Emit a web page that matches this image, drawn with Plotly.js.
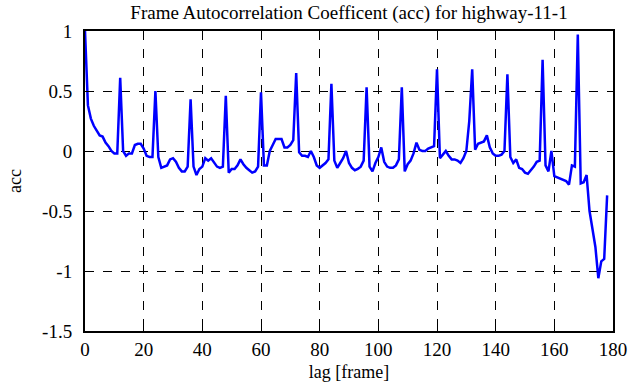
<!DOCTYPE html>
<html>
<head>
<meta charset="utf-8">
<script src="https://cdn.plot.ly/plotly-3.0.1.min.js"></script>
<style>html,body{margin:0;padding:0;background:#fff;}#chart{width:635px;height:387px;}</style>
</head>
<body>
<div id="chart"></div>
<script>
// lag in frames
const lags = [];
for (let i = 0; i <= 178; i++) lags.push(i);

// autocorrelation coefficient, one value per lag
const acc = [
  1.00, 0.38, 0.27, 0.21, 0.17, 0.13, 0.12, 0.07, 0.04, 0.00,
  -0.02, -0.02, 0.61, 0.00, -0.04, -0.02, -0.02, 0.05, 0.06, 0.06,
  0.02, -0.04, -0.05, -0.05, 0.50, -0.05, -0.14, -0.13, -0.12, -0.07,
  -0.06, -0.09, -0.14, -0.17, -0.17, -0.13, 0.43, -0.13, -0.20, -0.15,
  -0.13, -0.06, -0.08, -0.06, -0.10, -0.13, -0.14, -0.13, 0.46, -0.18,
  -0.15, -0.15, -0.12, -0.07, -0.11, -0.14, -0.16, -0.18, -0.17, -0.13,
  0.49, -0.12, -0.12, 0.00, 0.05, 0.10, 0.10, 0.10, 0.03, 0.03,
  0.05, 0.09, 0.65, -0.01, -0.04, -0.04, -0.05, 0.00, -0.05, -0.12,
  -0.14, -0.12, -0.10, -0.07, 0.56, -0.08, -0.14, -0.10, -0.06, 0.00,
  -0.10, -0.14, -0.16, -0.15, -0.13, -0.08, 0.53, -0.13, -0.17, -0.10,
  -0.05, 0.03, -0.09, -0.13, -0.14, -0.14, -0.12, -0.07, 0.53, -0.17,
  -0.11, -0.08, -0.02, 0.07, 0.01, 0.00, 0.00, 0.02, 0.03, 0.04,
  0.68, -0.06, -0.03, 0.00, -0.04, -0.07, -0.07, -0.08, -0.10, -0.06,
  0.00, 0.25, 0.68, 0.01, 0.06, 0.07, 0.08, 0.13, 0.03, -0.02,
  -0.04, -0.04, -0.03, 0.00, 0.64, -0.05, -0.10, -0.07, -0.14, -0.15,
  -0.18, -0.19, -0.16, -0.13, -0.09, -0.08, 0.76, -0.12, -0.17, 0.00,
  -0.21, -0.22, -0.23, -0.24, -0.25, -0.28, -0.12, -0.13, 0.97, -0.27,
  -0.26, -0.20, -0.50, -0.65, -0.80, -1.06, -0.92, -0.90, -0.37
];

const xTicks = [0, 20, 40, 60, 80, 100, 120, 140, 160, 180];
const yTicks = [-1.5, -1, -0.5, 0, 0.5, 1];
const yTickText = ['-1.5', '-1', '-0.5', '0', '0.5', '1'];

const SERIF = '"Liberation Serif", serif';

const trace = {
  x: lags, y: acc, type: 'scatter', mode: 'lines',
  line: {color: '#0000ff', width: 2.5},
  hoverinfo: 'skip'
};

function axis(extra) {
  return Object.assign({
    showline: true, linecolor: '#000', linewidth: 2, mirror: 'ticks',
    ticks: 'inside', ticklen: 5, tickwidth: 1, tickcolor: '#000',
    showgrid: true, gridcolor: '#000', gridwidth: 1, griddash: 'dash',
    zeroline: false,
    tickfont: {family: SERIF, size: 19, color: '#000'}
  }, extra);
}

const layout = {
  width: 635, height: 387,
  margin: {l: 85, r: 22, t: 31, b: 56, pad: 0},
  font: {family: SERIF, size: 19, color: '#000'},
  paper_bgcolor: '#fff', plot_bgcolor: '#fff',
  showlegend: false,
  title: {
    text: 'Frame Autocorrelation Coefficent (acc) for highway-11-1',
    font: {family: SERIF, size: 19, color: '#000'},
    x: 0.5, xref: 'paper', y: 0.969, yref: 'container', yanchor: 'middle'
  },
  xaxis: axis({
    range: [0, 180], tickvals: xTicks,
    title: {text: 'lag [frame]', font: {family: SERIF, size: 18, color: '#000'}, standoff: 7}
  }),
  yaxis: axis({
    range: [-1.5, 1], tickvals: yTicks, ticktext: yTickText,
    ticklabelstandoff: 7,
    title: {text: 'acc', font: {family: SERIF, size: 18, color: '#000'}, standoff: 16}
  })
};

Plotly.newPlot('chart', [trace], layout, {staticPlot: true, displayModeBar: false});
</script>
</body>
</html>
